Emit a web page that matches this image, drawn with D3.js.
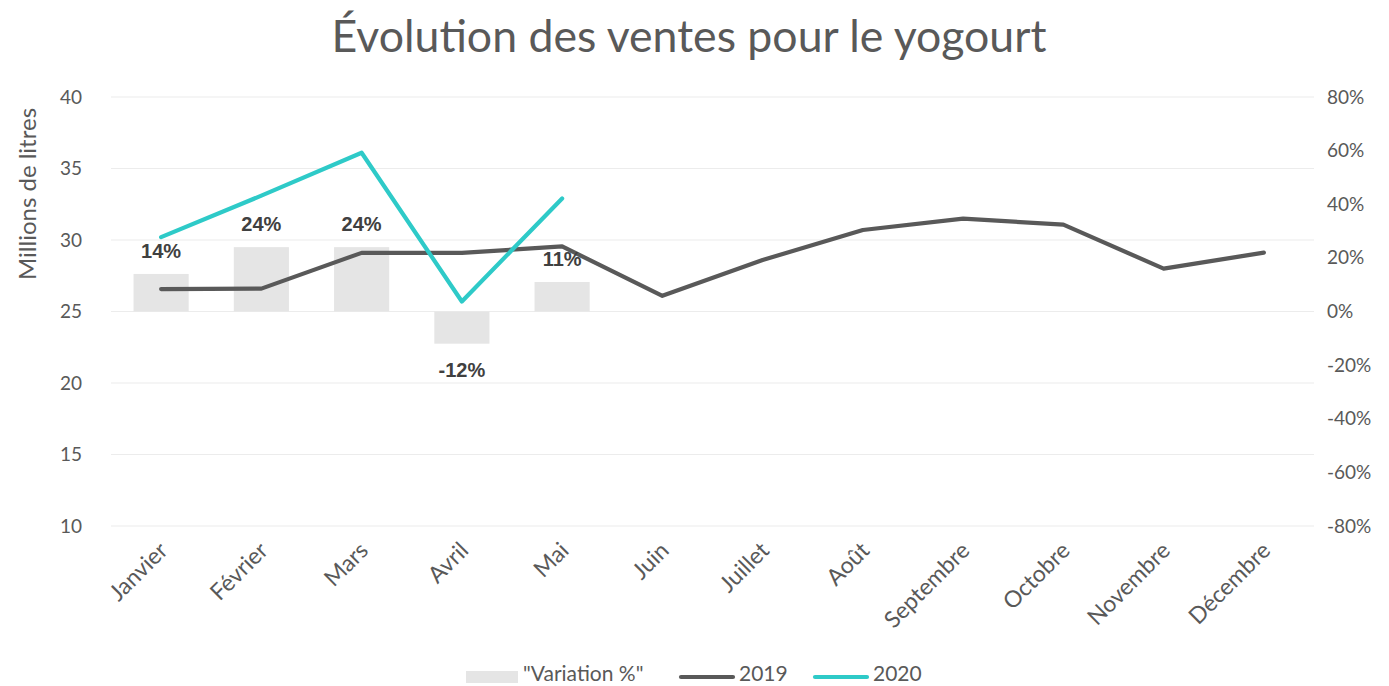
<!DOCTYPE html>
<html><head><meta charset="utf-8">
<script src="https://cdn.jsdelivr.net/npm/d3@7"></script>
<style>body{margin:0;background:#fff}svg{display:block}</style>
</head><body>
<svg id="c" width="1389" height="686"></svg>
<script>
const months = ["Janvier","Février","Mars","Avril","Mai","Juin","Juillet","Août","Septembre","Octobre","Novembre","Décembre"];
const sales2019 = [26.57,26.6,29.1,29.1,29.55,26.1,28.6,30.7,31.5,31.07,28.0,29.12];
const sales2020 = [30.2,33.1,36.1,25.7,32.9];
const variation = [0.14,0.24,0.24,-0.12,0.11];
const variationLabels = ["14%","24%","24%","-12%","11%"];
const leftTicks = [10,15,20,25,30,35,40];
const rightTicks = [-0.8,-0.6,-0.4,-0.2,0,0.2,0.4,0.6,0.8];
const legendItems = ['"Variation %"',"2019","2020"];

const svg = d3.select("#c");
const L = 111, R = 1314, T = 97, B = 526;
const x = d3.scaleBand().domain(months).range([L,R]).paddingInner(0.45).paddingOuter(0.225);
const xc = m => x(m) + x.bandwidth()/2;
const y = d3.scaleLinear().domain([10,40]).range([B,T]);
const y2 = d3.scaleLinear().domain([-0.8,0.8]).range([B,T]);
const txt = "#595959";
const font = "Lato, 'Open Sans', sans-serif";

// gridlines
svg.append("g").selectAll("line").data(leftTicks).join("line")
  .attr("x1",L).attr("x2",R).attr("y1",d=>y(d)).attr("y2",d=>y(d))
  .attr("stroke","#ececec").attr("stroke-width",1.2);

// left axis
const ga = svg.append("g").attr("transform",`translate(${L},0)`)
  .call(d3.axisLeft(y).tickValues(leftTicks).tickSize(0).tickPadding(29));
ga.select(".domain").remove();
ga.selectAll("text").attr("font-family",font).attr("font-size",19).attr("fill",txt);

// right axis
const gb = svg.append("g").attr("transform",`translate(${R},0)`)
  .call(d3.axisRight(y2).tickValues(rightTicks).tickSize(0).tickPadding(13));
gb.select(".domain").remove();
gb.selectAll("text").attr("font-family",font).attr("font-size",19).attr("fill",txt)
  .text(d => Math.round(d*100) + "%");

// bars
const vdata = variation.map((v,i)=>({m:months[i],v,l:variationLabels[i]}));
svg.append("g").selectAll("rect").data(vdata).join("rect")
  .attr("x",d=>x(d.m)).attr("width",x.bandwidth())
  .attr("y",d=>Math.min(y2(d.v),y2(0))).attr("height",d=>Math.abs(y2(d.v)-y2(0)))
  .attr("fill","#e5e5e5");

// lines
const line = d3.line().x((d,i)=>xc(months[i])).y(d=>y(d));
svg.append("path").datum(sales2019).attr("d",line).attr("fill","none")
  .attr("stroke","#595959").attr("stroke-width",4.2).attr("stroke-linejoin","round").attr("stroke-linecap","round");
svg.append("path").datum(sales2020).attr("d",line).attr("fill","none")
  .attr("stroke","#2ecac8").attr("stroke-width",4.2).attr("stroke-linejoin","round").attr("stroke-linecap","round");

// data labels
svg.append("g").selectAll("text").data(vdata).join("text")
  .attr("x",d=>xc(d.m)).attr("y",d=> d.v>=0 ? y2(d.v)-16 : y2(d.v)+33)
  .attr("text-anchor","middle").attr("font-family","'Liberation Sans', Arial, sans-serif")
  .attr("font-weight","bold").attr("font-size",20).attr("fill","#404040").text(d=>d.l);

// x labels
svg.append("g").selectAll("text").data(months).join("text")
  .attr("transform",d=>`translate(${xc(d)+8},${B+26}) rotate(-45)`)
  .attr("text-anchor","end").attr("font-family",font)
  .attr("font-size",23).attr("fill",txt).text(d=>d);

// y axis title
svg.append("text").attr("transform","translate(36,194) rotate(-90)")
  .attr("text-anchor","middle").attr("font-family",font)
  .attr("font-size",24).attr("fill",txt).text("Millions de litres");

// title
const title = svg.append("text").attr("x",689).attr("y",52).attr("text-anchor","middle")
  .attr("font-family",font).attr("font-size",40).attr("fill",txt)
  .text("Évolution des ventes pour le yogourt");
const tw = title.node().getComputedTextLength();
title.attr("font-size", 40*715/tw);

// legend
const lg = svg.append("g").attr("font-family",font).attr("font-size",21).attr("fill",txt);
lg.append("rect").attr("x",466).attr("y",671).attr("width",52).attr("height",12).attr("fill","#e5e5e5");
lg.append("text").attr("x",523).attr("y",681).text(legendItems[0]);
lg.append("line").attr("x1",681).attr("x2",733).attr("y1",677).attr("y2",677).attr("stroke","#595959").attr("stroke-width",4.2).attr("stroke-linecap","round");
lg.append("text").attr("x",739).attr("y",681).text(legendItems[1]);
lg.append("line").attr("x1",815).attr("x2",867).attr("y1",677).attr("y2",677).attr("stroke","#2ecac8").attr("stroke-width",4.2).attr("stroke-linecap","round");
lg.append("text").attr("x",873).attr("y",681).text(legendItems[2]);
</script>
</body></html>
